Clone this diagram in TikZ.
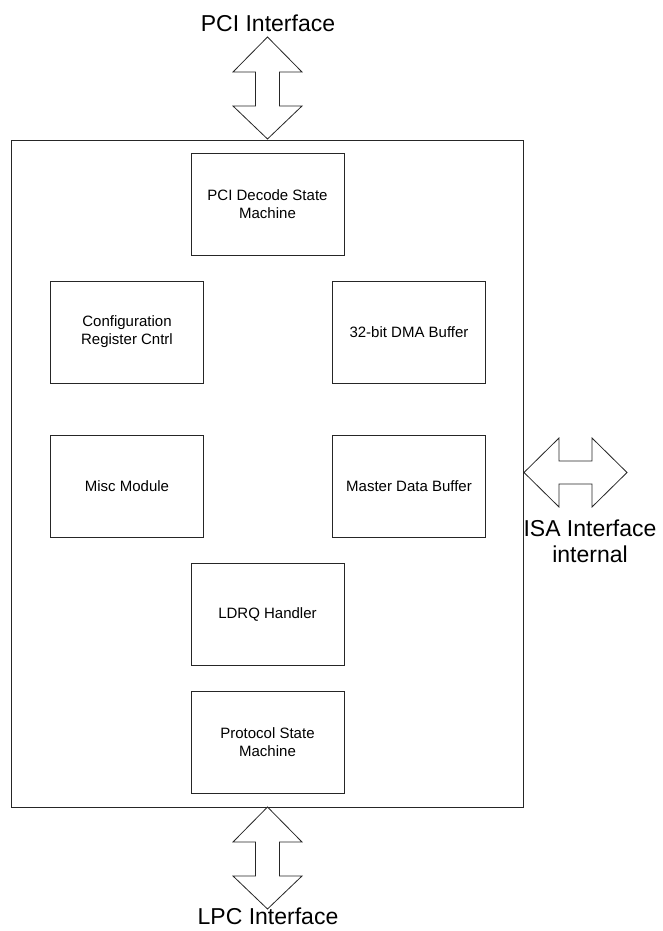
\documentclass[tikz,border=0pt]{standalone}
\usepackage{fontspec}
\setmainfont{Liberation Sans}
\usetikzlibrary{positioning}

\tikzset{
  block/.style={draw=black!85, line width=0.8pt, minimum width=153pt, minimum height=102pt,
    inner sep=0pt, align=center, font=\fontsize{15}{18}\selectfont},
  biglabel/.style={align=center, font=\fontsize{23}{26}\selectfont},
  bus/.style={draw=black!85, line width=0.8pt, fill=white, line join=miter}
}

\begin{document}
\begin{tikzpicture}[x=1pt, y=-1pt]
    \useasboundingbox (0, 0) rectangle (662, 931);

    % outer chip
    \draw [black!85, line width=0.8pt] (11.5, 140) rectangle (523.5, 807);

    % modules
    \node [block] (pcidec) at (267.5, 204) {PCI Decode State\\Machine};
    \node [block] (cfg) at (127, 332) {Configuration\\Register Cntrl};
    \node [block] (dma) at (409, 332) {32-bit DMA Buffer};
    \node [block] (misc) at (127, 486) {Misc Module};
    \node [block] (mdb) at (409, 486) {Master Data Buffer};
    \node [block] (ldrq) at (267.5, 614.5) {LDRQ Handler};
    \node [block] (proto) at (267.5, 742) {Protocol State\\Machine};

    % vertical buses
    \foreach \top in {37, 807} {
      \path [bus] (267.5, \top) -- (302, \top+35) -- (279.5, \top+35) -- (279.5, \top+69)
        -- (302, \top+69) -- (267.5, \top+102) -- (233, \top+69) -- (255.5, \top+69)
        -- (255.5, \top+35) -- (233, \top+35) -- cycle;
    }

    % horizontal bus
    \path [bus] (524, 472.5) -- (559, 438) -- (559, 461) -- (592, 461) -- (592, 438)
      -- (627, 472.5) -- (592, 507) -- (592, 484) -- (559, 484) -- (559, 507) -- cycle;

    \node [biglabel] (pci) at (268, 23) {PCI Interface};
    \node [biglabel] (isa) at (590, 541) {ISA Interface\\internal};
    \node [biglabel] (lpc) at (268, 916) {LPC Interface};

  \end{tikzpicture}
\end{document}
